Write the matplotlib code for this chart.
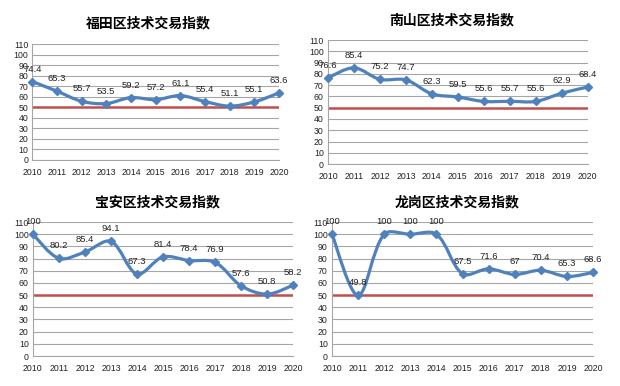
import matplotlib
matplotlib.use('Agg')
import matplotlib.pyplot as plt
from matplotlib.path import Path
from matplotlib.patches import PathPatch
import numpy as np

plt.rcParams['font.family'] = ['Liberation Sans', 'DejaVu Sans']

years = [2010, 2011, 2012, 2013, 2014, 2015, 2016, 2017, 2018, 2019, 2020]
futian = [74.4, 65.3, 55.7, 53.5, 59.2, 57.2, 61.1, 55.4, 51.1, 55.1, 63.6]
nanshan = [76.6, 85.4, 75.2, 74.7, 62.3, 59.5, 55.6, 55.7, 55.6, 62.9, 68.4]
baoan = [100, 80.2, 85.4, 94.1, 67.3, 81.4, 78.4, 76.9, 57.6, 50.8, 58.2]
longgang = [100, 49.8, 100, 100, 100, 67.5, 71.6, 67, 70.4, 65.3, 68.6]
titles = ['福田区技术交易指数', '南山区技术交易指数', '宝安区技术交易指数', '龙岗区技术交易指数']
baseline = 50

blue = '#4F81BD'
red = '#C0504D'

# axes rectangles and title positions (figure fractions)
rects = [
    [0.052, 0.5855, 0.398, 0.3005],
    [0.529, 0.575, 0.419, 0.321],
    [0.053, 0.0777, 0.420, 0.347],
    [0.5355, 0.0777, 0.421, 0.347],
]
title_pos = [(148, 23), (452, 20), (157, 202), (457, 202)]


def smooth_path(ax, x, y):
    # excel-like smoothed line, built as bezier segments in screen space
    pts = ax.transData.transform(np.column_stack([x, y]).astype(float))
    n = len(pts)
    tangents = []
    for i in range(n):
        p0 = pts[i - 1] if i > 0 else pts[i]
        p2 = pts[i + 1] if i + 1 < n else pts[i]
        tangents.append(p2 - p0)
    seg = [np.hypot(*(pts[i + 1] - pts[i])) for i in range(n - 1)]
    verts = [pts[0]]
    codes = [Path.MOVETO]
    for i in range(n - 1):
        d = seg[i]
        dl = seg[i - 1] if i > 0 else d
        dr = seg[i + 1] if i + 1 < n - 1 else d
        c1 = pts[i] + tangents[i] * d / (dl + d) / 3.0
        c2 = pts[i + 1] - tangents[i + 1] * d / (d + dr) / 3.0
        verts += [c1, c2, pts[i + 1]]
        codes += [Path.CURVE4] * 3
    verts = ax.transData.inverted().transform(np.array(verts))
    return Path(verts, codes)


fig = plt.figure(figsize=(6.2, 3.86), dpi=100)

for rect, series, title, tp in zip(rects, [futian, nanshan, baoan, longgang], titles, title_pos):
    ax = fig.add_axes(rect)
    ax.set_xlim(2010, 2020)
    ax.set_ylim(0, 110)
    ax.set_yticks(np.arange(0, 111, 10))
    ax.set_xticks(years)
    ax.grid(axis='y', color='#A6A6A6', linewidth=0.8)
    ax.set_axisbelow(True)
    for s in ['top', 'right']:
        ax.spines[s].set_visible(False)
    ax.spines['left'].set_color('#A6A6A6')
    ax.spines['bottom'].set_color('#A6A6A6')
    ax.tick_params(length=0, labelsize=6.3, colors='#222222')
    ax.tick_params(axis='x', pad=6)
    ax.tick_params(axis='y', pad=3)

    ax.axhline(baseline, color=red, linewidth=1.8, zorder=2)

    patch = PathPatch(smooth_path(ax, years, series), facecolor='none', edgecolor=blue,
                      linewidth=2.3, zorder=3, clip_on=False)
    ax.add_patch(patch)
    ax.plot(years, series, linestyle='none', marker='D', markersize=4.5,
            color=blue, zorder=4, clip_on=False)

    for x, v in zip(years, series):
        ax.annotate(f'{v:g}', (x, v), xytext=(0, 9), textcoords='offset points',
                    ha='center', va='center', fontsize=6.8, color='#222222',
                    annotation_clip=False)

    fig.text(tp[0] / 620, 1 - tp[1] / 386, title, ha='center', va='center',
             fontsize=10, fontweight='bold', family=['Noto Sans CJK SC', 'DejaVu Sans'])

fig.savefig('out.png', dpi=100)
